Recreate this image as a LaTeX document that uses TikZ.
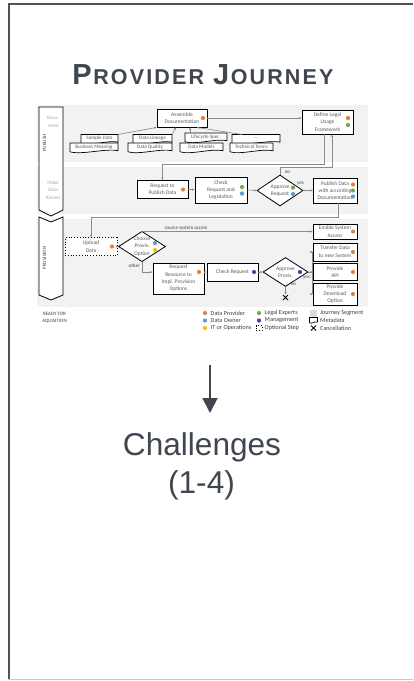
\documentclass[tikz,border=0pt]{standalone}
\usepackage{fontspec}
\setmainfont{Liberation Sans}
\newfontfamily\flowfont{Carlito}
\usetikzlibrary{arrows.meta,shapes.geometric,calc}

\definecolor{slate}{HTML}{3F4650}
\definecolor{frameline}{HTML}{4D535A}
\definecolor{framegray}{HTML}{C8C8C8}
\definecolor{bandgray}{HTML}{F2F2F2}
\definecolor{linkgray}{HTML}{8A8A8A}
\definecolor{boxtext}{HTML}{5A5A5A}
\definecolor{labeltext}{HTML}{404040}
\definecolor{subtext}{HTML}{A6A6A6}
\definecolor{roleorange}{HTML}{ED7D31}
\definecolor{roleblue}{HTML}{5B9BD5}
\definecolor{roleyellow}{HTML}{FFC000}
\definecolor{rolegreen}{HTML}{70AD47}
\definecolor{rolepurple}{HTML}{7030A0}

\newcommand\flowsize{\fontsize{5.5}{7.3}\selectfont}
\newcommand\smallflow{\fontsize{5}{7.5}\selectfont}
\newcommand\legendsize{\fontsize{6.2}{7}\selectfont}

% role marker inside a step
\newcommand\roledot[3]{\fill[#1] (#2,#3) circle[radius=2.1pt];}

% metadata item: document outline with a wavy bottom edge
\newcommand\metadoc[5]{%
  \filldraw[docedge] ({#2-#4/2},{#3-4.5}) -- ({#2+#4/2},{#3-4.5}) -- ({#2+#4/2},{#3+3.2})
    .. controls ({#2+#4/4},{#3+0.6}) and ({#2-#4/4},{#3+7.6}) .. ({#2-#4/2},{#3+4.3}) -- cycle;
  \coordinate (#1t) at (#2,{#3-4.5});
  \coordinate (#1ne) at ({#2+#4/2},{#3-4.5});
  \node[doctext] (#1) at (#2,{#3-0.6}) {#5};}

\tikzset{
  procbox/.style={draw=black, line width=0.8pt, fill=white, font=\flowfont\flowsize,
    text=boxtext, align=center, inner sep=0pt,
    preaction={fill=black, transform canvas={xshift=0.6pt,yshift=-0.6pt}}},
  optbox/.style={draw=black, line width=0.8pt, dotted, fill=white, font=\flowfont\flowsize,
    text=boxtext, align=center, inner sep=0pt},
  decision/.style={diamond, aspect=1.5, draw=black, line width=0.8pt, fill=white,
    font=\flowfont\flowsize, text=boxtext, align=center, inner sep=0pt},
  docedge/.style={draw=black, line width=0.7pt, fill=white},
  doctext/.style={font=\flowfont\fontsize{5.1}{6}\selectfont, text=boxtext, inner sep=0pt},
  link/.style={draw=linkgray, line width=0.6pt, -{Stealth[length=2.6pt,width=2.2pt]}},
  wire/.style={draw=linkgray, line width=0.6pt},
  edgelabel/.style={font=\flowfont\smallflow, text=labeltext, inner sep=0pt},
  lanebox/.style={draw=black, line width=0.8pt, fill=white},
  lanetitle/.style={font=\flowfont\smallflow, text=labeltext, inner sep=0pt, align=center},
  lanesub/.style={font=\flowfont\smallflow, text=subtext, inner sep=0pt, align=center},
  legendtext/.style={font=\flowfont\legendsize, text=labeltext, inner sep=0pt, anchor=west},
}

\begin{document}
\begin{tikzpicture}[x=1pt,y=-1pt]
\useasboundingbox (0,0) rectangle (413,681);

% page frame
\draw[framegray, line width=1.5pt] (8,679.7) -- (413,679.7);
\draw[frameline, line width=2.2pt] (8.8,679) -- (8.8,3.7) -- (413,3.7);

% heading
\node[anchor=base, text=slate, inner sep=0pt] (title) at (203,84)
  {\bfseries\addfontfeature{LetterSpace=10}{\fontsize{29}{29}\selectfont P}\kern1.5pt{\fontsize{21.5}{21.5}\selectfont ROVIDER}\hspace{9pt}{\fontsize{29}{29}\selectfont J}\kern1.5pt{\fontsize{21.5}{21.5}\selectfont OURNEY}};

% journey segments
\fill[bandgray] (37,105) rectangle (368,162);
\fill[bandgray] (37,167) rectangle (368,214);
\fill[bandgray] (37,219) rectangle (368,307);

% phase chevrons
\filldraw[lanebox] (39,107) -- (63,107) -- (63,210) -- (51,216) -- (39,210) -- cycle;
\filldraw[lanebox] (39,217) -- (51,222) -- (63,217) -- (63,295) -- (51,300) -- (39,295) -- cycle;
\node[lanetitle, rotate=90] (lbpub) at (44.5,143) {PUBLISH};
\node[lanesub] (lbdoc) at (53,122) {Docu-\\ment};
\node[lanesub] (lbmake) at (53,190) {Make\\Data\\Known};
\node[lanetitle, rotate=90] (lbprov) at (44.5,258) {PROVISION};
\node[lanetitle] (lbready) at (54.5,317.5) {READY FOR\\AQUISITION};

% --- publish: documentation ---
\node[procbox, minimum width=50pt, minimum height=18pt] (assemble) at (182,118) {Assemble\\Documentation};
\roledot{roleorange}{203}{118}
\node[procbox, minimum width=51pt, minimum height=24pt] (legal) at (327.5,122) {Define Legal\\Usage\\Framework};
\roledot{roleorange}{348}{118}
\roledot{rolegreen}{348}{125}

\metadoc{sample}{99.5}{139}{37}{Sample Data}
\metadoc{meaning}{94}{147.5}{48}{Business Meaning}
\metadoc{lineage}{152.5}{139}{39}{Data Lineage}
\metadoc{quality}{150}{147.5}{44}{Data Quality}
\metadoc{lifecycle}{206}{137.5}{42}{Lifecycle Spec.}
\metadoc{models}{201.5}{147.5}{43}{Data Models}
\metadoc{moredocs}{256}{139}{48}{...}
\metadoc{terms}{251.5}{147.5}{43}{Technical Terms}

\draw[link] (samplene) -- (assemble.south west);
\draw[link] (lineagene) -- ($(assemble.south)+(-6,0)$);
\draw[link] ($(lifecyclet)+(-16,0)$) -- ($(assemble.south)+(8,0)$);
\draw[link] ($(moredocst)+(-14,0)$) -- ($(assemble.south)+(15,0)$);
\draw[link] (assemble.east) -- (assemble.east -| legal.west);

% --- publish: make data known ---
\node[procbox, minimum width=51pt, minimum height=18pt] (request) at (162.5,189.5) {Request to\\Publish Data};
\roledot{roleorange}{183}{189.5}
\node[procbox, minimum width=52pt, minimum height=26pt] (check) at (221,190) {Check\\Request and\\Legislation};
\roledot{rolegreen}{242}{187}
\roledot{roleblue}{242}{193.5}
\node[decision, minimum width=46pt, minimum height=31pt] (approve) at (280,190.5) {Approve\\Request};
\roledot{rolegreen}{293}{187.5}
\roledot{roleblue}{293}{194}
\node[procbox, minimum width=44pt, minimum height=25pt] (publish) at (335,190.5) {Publish Data\\with according\\Documentation};
\roledot{roleorange}{353}{184.5}
\roledot{rolegreen}{353}{190.5}
\roledot{roleblue}{353}{196.5}

\draw[link] ($(legal.south)+(-3,0)$) -- ++(0,30) -| (request.north);
\draw[link] (request.east) -- (request.east -| check.west);
\draw[link] (check.east) -- (approve.west);
\draw[link] (approve.north) -- ++(0,-7) -| ($(legal.south)+(4.5,0)$);
\node[edgelabel] (lblno) at (287.5,172) {no};
\draw[link] (approve.east) -- (publish.west);
\node[edgelabel] (lblyes) at (300.5,183.5) {yes};

% --- provision ---
\node[optbox, minimum width=52pt, minimum height=18pt] (upload) at (91,246.5) {Upload\\Data};
\roledot{roleorange}{112}{246.5}
\node[decision, minimum width=47pt, minimum height=30pt] (choose) at (142,246.5) {Choose\\Provis.\\Option};
\roledot{roleblue}{155}{243}
\roledot{roleyellow}{155}{250}
\node[procbox, minimum width=51pt, minimum height=31pt] (reqres) at (178.5,278.5) {Request\\Resource to\\Impl. Provision\\Options};
\roledot{roleorange}{199}{272}
\node[procbox, minimum width=51pt, minimum height=18pt] (checkreq) at (232.5,272) {Check Request};
\roledot{rolepurple}{254}{272}
\node[decision, minimum width=45pt, minimum height=29pt] (approvep) at (285.5,272) {Approve\\Provis.};
\roledot{rolepurple}{300}{272}

\node[procbox, minimum width=44pt, minimum height=15pt] (enable) at (335,231.5) {Enable System\\Access};
\roledot{roleorange}{353}{231.5}
\node[procbox, minimum width=44pt, minimum height=18pt] (transfer) at (335,252) {Transfer Data\\to new System};
\roledot{roleorange}{353}{252}
\node[procbox, minimum width=44pt, minimum height=17pt] (api) at (335,272) {Provide\\API};
\roledot{roleorange}{353}{272}
\node[procbox, minimum width=44pt, minimum height=22pt] (download) at (335,294) {Provide\\Download\\Option};
\roledot{roleorange}{353}{294}

\draw[link] ($(publish.south)+(3,0)$) -- ++(0,14) -| (upload.north);
\draw[link] (upload.east) -- (choose.west);
\draw[link] (choose.north) |- (enable.west);
\node[edgelabel] (lblsource) at (186,228.3) {source system access};
\draw[link] (choose.south) |- ($(reqres.west)+(0,-6.5)$);
\node[edgelabel, anchor=east] (lblother) at (140,266) {other};
\draw[link] ($(reqres.east)+(0,-6.5)$) -- (checkreq.west);
\draw[link] (checkreq.east) -- (approvep.west);

\draw[wire] (approvep.east) -- ++(3.5,0) coordinate (fork);
\draw[wire] (fork |- transfer.west) -- (fork |- download.west);
\draw[link] (fork |- transfer.west) -- (transfer.west);
\draw[link] (fork) -- (api.west);
\draw[link] (fork |- download.west) -- (download.west);
\node[edgelabel] (lblyesp) at (306.5,277.5) {yes};

\coordinate (cancel) at (285.5,297.5);
\draw[link] (approvep.south) -- ($(cancel)+(0,-3)$);
\draw[black, line width=0.8pt] ($(cancel)+(-2.5,-2.5)$) -- ($(cancel)+(2.5,2.5)$)
  ($(cancel)+(-2.5,2.5)$) -- ($(cancel)+(2.5,-2.5)$);
\node[edgelabel] (lblnop) at (293.5,284.5) {no};

% --- legend ---
\roledot{roleorange}{205}{313}
\node[legendtext] (lgprov) at (210.5,313) {Data Provider};
\roledot{roleblue}{205}{320.5}
\node[legendtext] (lgowner) at (210.5,320.5) {Data Owner};
\roledot{roleyellow}{205}{328}
\node[legendtext] (lgit) at (210.5,328) {IT or Operations};
\roledot{rolegreen}{259}{313}
\node[legendtext] (lglegal) at (264.5,313) {Legal Experts};
\roledot{rolepurple}{259}{320.5}
\node[legendtext] (lgmgmt) at (264.5,320.5) {Management};
\draw[black, line width=0.7pt, dotted] (256,325.5) rectangle (262,330.5);
\node[legendtext] (lgopt) at (264.5,328) {Optional Step};
\fill[bandgray!80!gray] (309.5,309.5) rectangle (317,316.5);
\node[legendtext] (lgseg) at (320,313) {Journey Segment};
\filldraw[docedge] (309.5,317.5) -- (317.5,317.5) -- (317.5,322)
  .. controls (315.5,320.8) and (311.5,324.5) .. (309.5,322.8) -- cycle;
\node[legendtext] (lgmeta) at (320,320.5) {Metadata};
\draw[black, line width=0.8pt] (311,325.5) -- (316,330.5) (311,330.5) -- (316,325.5);
\node[legendtext] (lgcancel) at (320,328) {Cancellation};

% --- outcome ---
\coordinate (arrtop) at (210,365);
\coordinate (arrtip) at (210,413);
\draw[slate, line width=2pt, -{Triangle[length=15pt,width=15pt]}] (arrtop) -- (arrtip);
\node[anchor=base, text=slate, font=\fontsize{31.6}{38}\selectfont, inner sep=0pt] (chal) at (202,455) {Challenges};
\node[anchor=base, text=slate, font=\fontsize{31.6}{38}\selectfont, inner sep=0pt] (chalnum) at (201.5,493) {(1-4)};
\end{tikzpicture}
\end{document}
